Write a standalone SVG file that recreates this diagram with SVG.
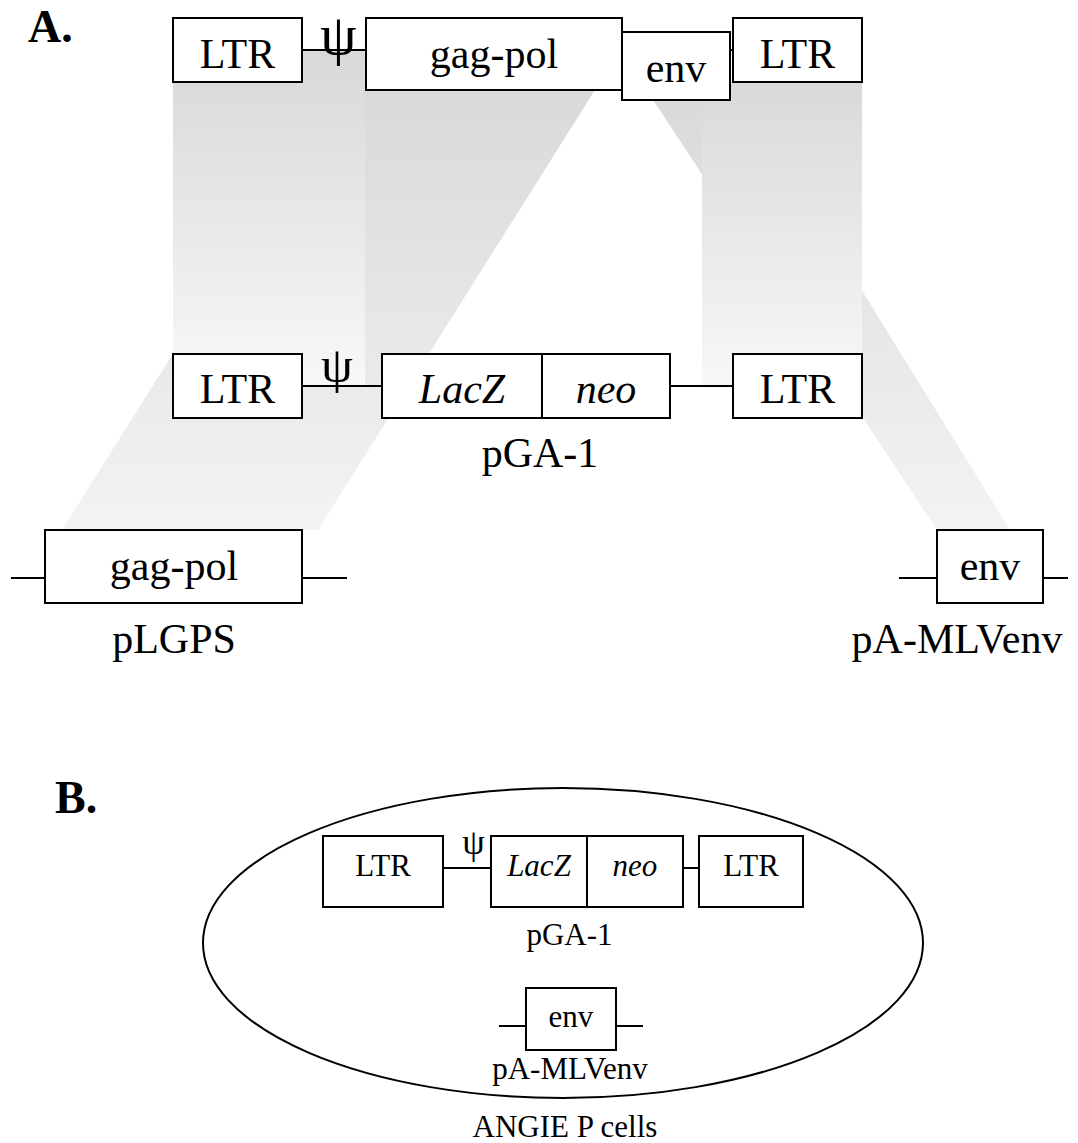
<svg xmlns="http://www.w3.org/2000/svg" width="1078" height="1143" viewBox="0 0 1078 1143">
<style>
text{font-family:"Liberation Serif","Times New Roman",serif;fill:#000}
.t42{font-size:42px}
.t31{font-size:31px}
.it{font-style:italic}
.lbl{font-size:46px;font-weight:bold}
.box{fill:#fff;stroke:#000;stroke-width:2}
.ln{stroke:#000;stroke-width:2;fill:none}
</style>
<defs>
<linearGradient id="bandL" gradientUnits="userSpaceOnUse" x1="0" y1="60" x2="0" y2="386">
<stop offset="0" stop-color="#d9d9d9"/><stop offset="1" stop-color="#f8f8f8"/>
</linearGradient>
<linearGradient id="bandR" gradientUnits="userSpaceOnUse" x1="0" y1="82" x2="0" y2="390">
<stop offset="0" stop-color="#d9d9d9"/><stop offset="1" stop-color="#f8f8f8"/>
</linearGradient>
<linearGradient id="wedge" gradientUnits="userSpaceOnUse" x1="0" y1="90" x2="0" y2="530">
<stop offset="0" stop-color="#d9d9d9"/><stop offset="1" stop-color="#f3f3f3"/>
</linearGradient>
</defs>

<g id="shading">
<polygon points="339,90 595,90 318,530 62,530" fill="url(#wedge)"/>
<polygon points="653,100 733,82 1010,530 937,530" fill="url(#wedge)"/>
<rect x="173" y="50" width="192" height="336" fill="url(#bandL)"/>
<rect x="702" y="82" width="160" height="306" fill="url(#bandR)"/>
</g>

<text class="lbl" x="28" y="42">A.</text>
<text class="lbl" x="55" y="813">B.</text>

<g id="connectors">
<line class="ln" x1="302" y1="50" x2="366" y2="50"/>
<line class="ln" x1="729" y1="50" x2="734" y2="50"/>
<line class="ln" x1="302" y1="386" x2="382" y2="386"/>
<line class="ln" x1="670" y1="386" x2="733" y2="386"/>
<line class="ln" x1="11" y1="578" x2="45" y2="578"/>
<line class="ln" x1="302" y1="578" x2="347" y2="578"/>
<line class="ln" x1="899" y1="578" x2="937" y2="578"/>
<line class="ln" x1="1043" y1="578" x2="1068" y2="578"/>
<line class="ln" x1="443" y1="868" x2="491" y2="868"/>
<line class="ln" x1="683" y1="868" x2="699" y2="868"/>
<line class="ln" x1="499" y1="1026" x2="526" y2="1026"/>
<line class="ln" x1="616" y1="1026" x2="643" y2="1026"/>
</g>

<g id="top-ltr1"><rect class="box" x="173" y="18" width="129" height="64"/><text class="t42" x="237.5" y="68" text-anchor="middle">LTR</text></g>
<g id="top-psi"><text x="338.5" y="54" font-size="58" text-anchor="middle">ψ</text></g>
<g id="top-gagpol"><rect class="box" x="366" y="18" width="256" height="72"/><text class="t42" x="494" y="68" text-anchor="middle">gag-pol</text></g>
<g id="top-env"><rect class="box" x="622" y="32" width="108" height="68"/><text class="t42" x="676" y="82" text-anchor="middle">env</text></g>
<g id="top-ltr2"><rect class="box" x="733" y="18" width="129" height="64"/><text class="t42" x="797.5" y="68" text-anchor="middle">LTR</text></g>

<g id="mid-ltr1"><rect class="box" x="173" y="354" width="129" height="64"/><text class="t42" x="237.5" y="403" text-anchor="middle">LTR</text></g>
<g id="mid-psi"><text x="337" y="382" font-size="51" text-anchor="middle">ψ</text></g>
<g id="mid-lacz-neo"><rect class="box" x="382" y="354" width="288" height="64"/><line class="ln" x1="542" y1="354" x2="542" y2="418"/><text class="t42 it" x="462" y="403" text-anchor="middle">LacZ</text><text class="t42 it" x="606" y="403" text-anchor="middle">neo</text></g>
<g id="mid-ltr2"><rect class="box" x="733" y="354" width="129" height="64"/><text class="t42" x="797.5" y="403" text-anchor="middle">LTR</text></g>
<g id="pGA1-label"><text class="t42" x="540" y="467" text-anchor="middle">pGA-1</text></g>

<g id="pLGPS"><rect class="box" x="45" y="530" width="257" height="73"/><text class="t42" x="174" y="580" text-anchor="middle">gag-pol</text><text class="t42" x="174" y="653" text-anchor="middle">pLGPS</text></g>
<g id="pA-MLVenv"><rect class="box" x="937" y="530" width="106" height="73"/><text class="t42" x="990" y="580" text-anchor="middle">env</text><text class="t42" x="957" y="653" text-anchor="middle">pA-MLVenv</text></g>

<g id="cell"><ellipse cx="563" cy="943" rx="360" ry="155" fill="none" stroke="#000" stroke-width="2"/><text class="t31" x="565" y="1137" text-anchor="middle">ANGIE P cells</text></g>
<g id="b-ltr1"><rect class="box" x="323" y="836" width="120" height="71"/><text class="t31" x="383" y="876" text-anchor="middle">LTR</text></g>
<g id="b-psi"><text x="473.5" y="854" font-size="36" text-anchor="middle">ψ</text></g>
<g id="b-lacz-neo"><rect class="box" x="491" y="836" width="192" height="71"/><line class="ln" x1="587" y1="836" x2="587" y2="907"/><text class="t31 it" x="539" y="876" text-anchor="middle">LacZ</text><text class="t31 it" x="635" y="876" text-anchor="middle">neo</text></g>
<g id="b-ltr2"><rect class="box" x="699" y="836" width="104" height="71"/><text class="t31" x="751" y="876" text-anchor="middle">LTR</text></g>
<g id="b-pGA1"><text class="t31" x="569.5" y="945" text-anchor="middle">pGA-1</text></g>
<g id="b-env"><rect class="box" x="526" y="988" width="90" height="62"/><text class="t31" x="571" y="1027" text-anchor="middle">env</text><text class="t31" x="570" y="1079" text-anchor="middle">pA-MLVenv</text></g>
</svg>
